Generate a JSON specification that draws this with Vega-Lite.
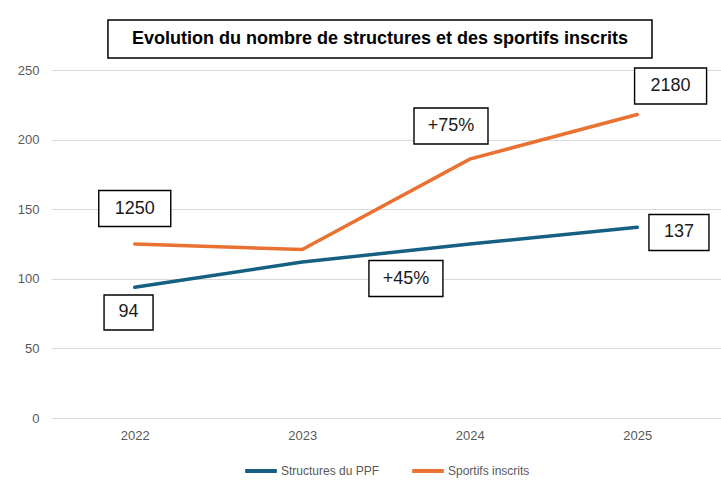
{
  "$schema": "https://vega.github.io/schema/vega-lite/v6.json",
  "width": 670,
  "height": 348,
  "autosize": "none",
  "padding": {"left": 51, "top": 70, "right": 0, "bottom": 74},
  "background": "white",
  "config": {
    "view": {"stroke": null},
    "axis": {
      "labelFont": "Liberation Sans Narrow, Liberation Sans, sans-serif",
      "labelFontSize": 13,
      "labelColor": "#595959",
      "domain": false,
      "ticks": false,
      "title": null
    },
    "legend": {
      "labelFont": "Liberation Sans Narrow, Liberation Sans, sans-serif",
      "labelFontSize": 12,
      "labelColor": "#595959",
      "layout": {"bottom": {"anchor": "middle"}}
    }
  },
  "datasets": {
    "series": [
      {"year": 2022, "serie": "Structures du PPF", "value": 94},
      {"year": 2023, "serie": "Structures du PPF", "value": 112},
      {"year": 2024, "serie": "Structures du PPF", "value": 125},
      {"year": 2025, "serie": "Structures du PPF", "value": 137},
      {"year": 2022, "serie": "Sportifs inscrits", "value": 125},
      {"year": 2023, "serie": "Sportifs inscrits", "value": 121},
      {"year": 2024, "serie": "Sportifs inscrits", "value": 186},
      {"year": 2025, "serie": "Sportifs inscrits", "value": 218}
    ],
    "notes": [
      {"label": "1250", "ax": 2022.0, "ay": 150.5},
      {"label": "94", "ax": 2021.963, "ay": 75.8},
      {"label": "+45%", "ax": 2023.619, "ay": 100.2},
      {"label": "+75%", "ax": 2023.888, "ay": 209.8},
      {"label": "2180", "ax": 2025.199, "ay": 238.5},
      {"label": "137", "ax": 2025.249, "ay": 133.3}
    ],
    "heading": [
      {"text": "Evolution du nombre de structures et des sportifs inscrits", "cx": 2023.464, "cy": 272.3, "x1": 2021.84, "x2": 2025.088, "y1": 285.9, "y2": 258.6}
    ]
  },
  "layer": [
    {
      "data": {"name": "series"},
      "mark": {"type": "line", "strokeWidth": 3.5, "strokeCap": "round"},
      "encoding": {
        "x": {
          "field": "year",
          "type": "quantitative",
          "scale": {"domain": [2021.5, 2025.5], "nice": false, "zero": false},
          "axis": {"values": [2022, 2023, 2024, 2025], "format": "d", "grid": false, "labelPadding": 11}
        },
        "y": {
          "field": "value",
          "type": "quantitative",
          "scale": {"domain": [0, 250], "nice": false},
          "axis": {"values": [0, 50, 100, 150, 200, 250], "grid": true, "gridColor": "#d9d9d9", "gridWidth": 1, "labelPadding": 12}
        },
        "color": {
          "field": "serie",
          "type": "nominal",
          "scale": {"domain": ["Structures du PPF", "Sportifs inscrits"], "range": ["#156082", "#E97132"]},
          "legend": {
            "orient": "bottom",
            "direction": "horizontal",
            "title": null,
            "symbolType": "stroke",
            "symbolStrokeWidth": 4,
            "symbolSize": 1000,
            "labelOffset": 2,
            "columnPadding": 24,
            "offset": 11
          }
        }
      }
    },
    {
      "data": {"name": "heading"},
      "mark": {"type": "rect", "fill": "white", "stroke": "black", "strokeWidth": 1.5},
      "encoding": {
        "x": {"field": "x1", "type": "quantitative"},
        "x2": {"field": "x2"},
        "y": {"field": "y1", "type": "quantitative"},
        "y2": {"field": "y2"}
      }
    },
    {
      "data": {"name": "heading"},
      "mark": {"type": "text", "font": "Liberation Sans", "fontSize": 18, "fontWeight": "bold", "color": "black", "align": "center", "baseline": "middle"},
      "encoding": {
        "x": {"field": "cx", "type": "quantitative"},
        "y": {"field": "cy", "type": "quantitative"},
        "text": {"field": "text", "type": "nominal"}
      }
    },
    {
      "data": {"name": "notes"},
      "transform": [{"filter": {"field": "label", "oneOf": ["1250", "2180"]}}],
      "mark": {"type": "rect", "width": 72, "height": 36, "fill": "white", "stroke": "black", "strokeWidth": 1.4},
      "encoding": {
        "x": {"field": "ax", "type": "quantitative"},
        "y": {"field": "ay", "type": "quantitative"}
      }
    },
    {
      "data": {"name": "notes"},
      "transform": [{"filter": {"field": "label", "oneOf": ["+45%", "+75%"]}}],
      "mark": {"type": "rect", "width": 74, "height": 36, "fill": "white", "stroke": "black", "strokeWidth": 1.4},
      "encoding": {
        "x": {"field": "ax", "type": "quantitative"},
        "y": {"field": "ay", "type": "quantitative"}
      }
    },
    {
      "data": {"name": "notes"},
      "transform": [{"filter": {"field": "label", "oneOf": ["94"]}}],
      "mark": {"type": "rect", "width": 49, "height": 35, "fill": "white", "stroke": "black", "strokeWidth": 1.4},
      "encoding": {
        "x": {"field": "ax", "type": "quantitative"},
        "y": {"field": "ay", "type": "quantitative"}
      }
    },
    {
      "data": {"name": "notes"},
      "transform": [{"filter": {"field": "label", "oneOf": ["137"]}}],
      "mark": {"type": "rect", "width": 60, "height": 36, "fill": "white", "stroke": "black", "strokeWidth": 1.4},
      "encoding": {
        "x": {"field": "ax", "type": "quantitative"},
        "y": {"field": "ay", "type": "quantitative"}
      }
    },
    {
      "data": {"name": "notes"},
      "mark": {"type": "text", "font": "Liberation Sans", "fontSize": 18, "color": "#1a1a1a", "align": "center", "baseline": "middle"},
      "encoding": {
        "x": {"field": "ax", "type": "quantitative"},
        "y": {"field": "ay", "type": "quantitative"},
        "text": {"field": "label", "type": "nominal"}
      }
    }
  ]
}
